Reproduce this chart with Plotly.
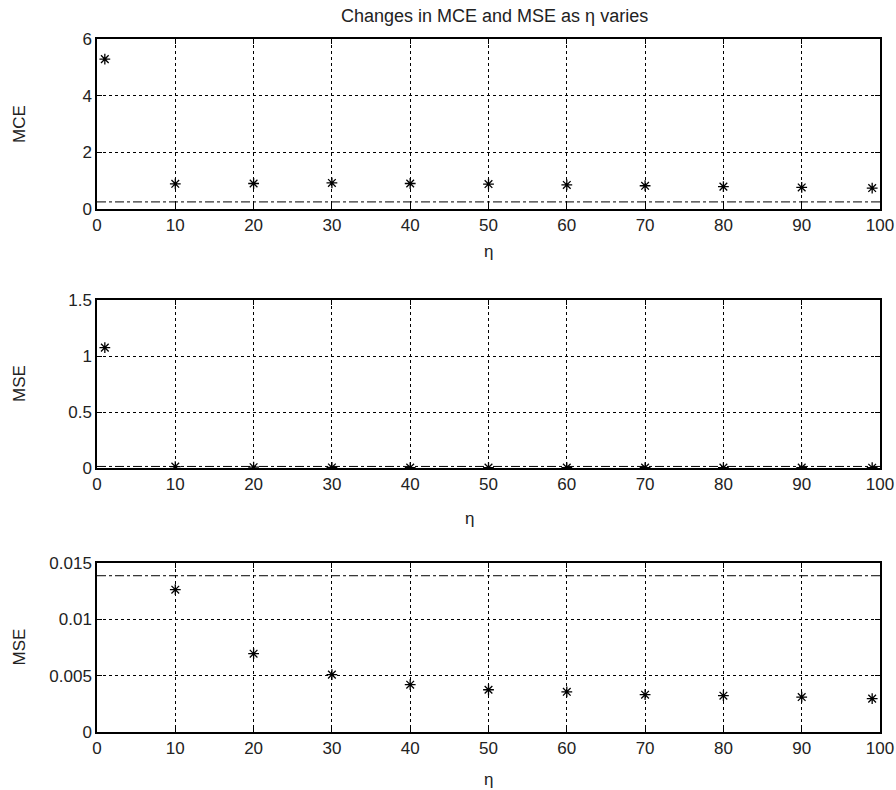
import plotly.graph_objects as go
from plotly.subplots import make_subplots

eta = [1, 10, 20, 30, 40, 50, 60, 70, 80, 90, 99]
mce = [5.29, 0.89, 0.90, 0.92, 0.90, 0.88, 0.85, 0.82, 0.79, 0.76, 0.74]
mse = [1.075, 0.01263, 0.00695, 0.00509, 0.00420, 0.00375, 0.00357, 0.00331, 0.00322, 0.00310, 0.00296]
mce_ref = 0.25
mse_ref = 0.01387
ref_x = [0, 100]

x_ticks = [0, 10, 20, 30, 40, 50, 60, 70, 80, 90, 100]
y1_ticks = [0, 2, 4, 6]
y2_ticks = [0, 0.5, 1, 1.5]
y2_text = ["0", "0.5", "1", "1.5"]
y3_ticks = [0, 0.005, 0.01, 0.015]
y3_text = ["0", "0.005", "0.01", "0.015"]

FONT = "Liberation Sans, Arial, sans-serif"
FS = 17
TXT = "#222"

W, H = 896, 790
L, T = 97, 39
R = W - 880
B = H - 732
PW, PH = W - L - R, H - T - B


def px_x(p):
    return (p - L) / PW


def px_y(p):
    return 1 - (p - T) / PH


fig = make_subplots(rows=3, cols=1)

panels = [(mce, mce_ref, 1), (mse, mse_ref, 2), (mse, mse_ref, 3)]
for ys, ref, r in panels:
    fig.add_trace(go.Scatter(x=ref_x, y=[ref, ref], mode="lines",
                             line=dict(color="black", width=1, dash="dashdot"),
                             showlegend=False, hoverinfo="skip"), row=r, col=1)
    fig.add_trace(go.Scatter(x=eta, y=ys, mode="markers",
                             marker=dict(symbol="asterisk-open", size=9, color="black",
                                         line=dict(color="black", width=1.3)),
                             showlegend=False), row=r, col=1)

axis_common = dict(showline=True, linecolor="black", linewidth=1.5, mirror="ticks",
                   ticks="inside", ticklen=5, tickcolor="black", automargin=False,
                   showgrid=True, gridcolor="black", gridwidth=0.8, griddash="3px,3px",
                   zeroline=False, tickfont=dict(family=FONT, size=FS, color=TXT))

# reference pixel boxes (top, bottom) of each panel
boxes = [(39, 209), (300, 468), (563, 732)]
yranges = [[0, 6], [0, 1.5], [0, 0.015]]
yticks = [(y1_ticks, [str(v) for v in y1_ticks]), (y2_ticks, y2_text), (y3_ticks, y3_text)]
ytitles = ["MCE", "MSE", "MSE"]
eta_pos = [(488, 252), (469, 518), (488, 779)]

for i in range(3):
    r = i + 1
    top, bot = boxes[i]
    fig.update_xaxes(range=[0, 100], tickvals=x_ticks, row=r, col=1, **axis_common)
    fig.update_yaxes(range=yranges[i], tickvals=yticks[i][0], ticktext=yticks[i][1],
                     domain=[px_y(bot), px_y(top)], row=r, col=1, **axis_common)
    fig.add_annotation(text=ytitles[i], xref="paper", yref="paper",
                       x=px_x(19), y=px_y((top + bot) / 2), textangle=-90,
                       showarrow=False, xanchor="center", yanchor="middle",
                       font=dict(family=FONT, size=FS, color=TXT))
    ex, ey = eta_pos[i]
    fig.add_annotation(text="η", xref="paper", yref="paper",
                       x=px_x(ex), y=px_y(ey), showarrow=False,
                       xanchor="center", yanchor="middle",
                       font=dict(family=FONT, size=FS, color=TXT))

fig.add_annotation(text="Changes in MCE and MSE as η varies", xref="paper", yref="paper",
                   x=px_x(494), y=px_y(16), showarrow=False,
                   xanchor="center", yanchor="middle",
                   font=dict(family=FONT, size=18, color=TXT))

fig.update_layout(
    width=W, height=H,
    margin=dict(l=L, r=R, t=T, b=B),
    paper_bgcolor="white", plot_bgcolor="white",
)

fig.write_html("out.html", config={"displayModeBar": False},
               post_script="document.body.style.margin='0px';document.body.style.overflow='hidden';")
